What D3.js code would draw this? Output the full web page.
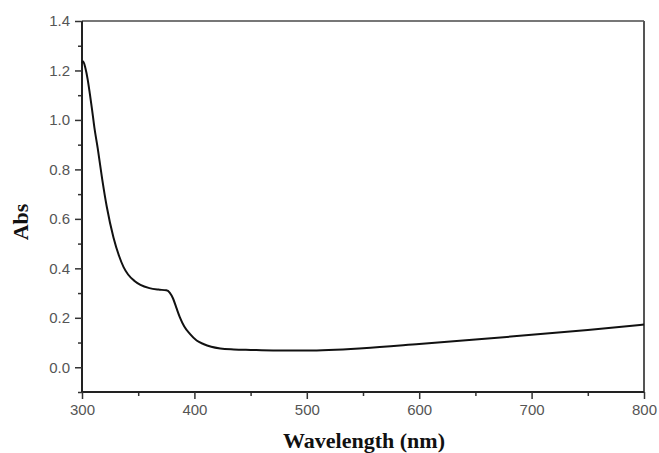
<!DOCTYPE html>
<html>
<head>
<meta charset="utf-8">
<script src="https://cdn.jsdelivr.net/npm/d3@7"></script>
<style>
  body { margin: 0; background: #fff; }
  .tick text { font-family: "Liberation Sans", Arial, sans-serif; font-size: 15px; fill: #555; }
  .axis-title { font-family: "Liberation Serif", "Times New Roman", serif; font-weight: bold; font-size: 22px; fill: #111; }
</style>
</head>
<body>
<svg id="chart" width="659" height="453"></svg>
<script>
// spectrum
const wavelength = [300, 301, 303, 305, 307, 309, 311, 314, 318, 322, 328, 333, 337, 341, 347, 352, 360, 368, 375, 378, 381, 384, 387, 391, 396, 402, 408, 415, 423, 435, 450, 470, 500, 550, 600, 650, 700, 750, 800];
const absorbance = [1.23, 1.236, 1.21, 1.165, 1.105, 1.04, 0.97, 0.885, 0.76, 0.65, 0.525, 0.45, 0.405, 0.375, 0.348, 0.333, 0.32, 0.314, 0.311, 0.302, 0.278, 0.24, 0.203, 0.165, 0.135, 0.108, 0.094, 0.083, 0.076, 0.072, 0.07, 0.068, 0.068, 0.077, 0.094, 0.112, 0.131, 0.151, 0.173];
const xTicks = [300, 400, 500, 600, 700, 800];
const xMinor = [350, 450, 550, 650, 750];
const yTicks = [0.0, 0.2, 0.4, 0.6, 0.8, 1.0, 1.2, 1.4];
const yMinor = [-0.1, 0.1, 0.3, 0.5, 0.7, 0.9, 1.1, 1.3];

const margin = {top: 21, right: 15, bottom: 61, left: 82};
const width = 659 - margin.left - margin.right;
const height = 453 - margin.top - margin.bottom;

const svg = d3.select("#chart");
const g = svg.append("g").attr("transform", `translate(${margin.left},${margin.top})`);

const x = d3.scaleLinear().domain([300, 800]).range([0, width]);
const y = d3.scaleLinear().domain([-0.1, 1.4]).range([height, 0]);

// frame (top/right lighter)
g.append("line").attr("x1", 0).attr("x2", width).attr("y1", 0).attr("y2", 0)
  .attr("stroke", "#777").attr("stroke-width", 2);
g.append("line").attr("x1", width).attr("x2", width).attr("y1", 0).attr("y2", height)
  .attr("stroke", "#555").attr("stroke-width", 2);

// minor ticks
g.append("g").attr("transform", `translate(0,${height})`)
  .call(d3.axisBottom(x).tickValues(xMinor).tickSize(4).tickFormat(""))
  .call(a => a.select(".domain").remove())
  .selectAll("line").attr("stroke", "#333").attr("stroke-width", 1.5);
g.append("g")
  .call(d3.axisLeft(y).tickValues(yMinor).tickSize(4).tickFormat(""))
  .call(a => a.select(".domain").remove())
  .selectAll("line").attr("stroke", "#333").attr("stroke-width", 1.5);

// major axes
const xAxis = g.append("g").attr("transform", `translate(0,${height})`)
  .call(d3.axisBottom(x).tickValues(xTicks).tickSize(7).tickPadding(5).tickFormat(d3.format("d")));
const yAxis = g.append("g")
  .call(d3.axisLeft(y).tickValues(yTicks).tickSize(7).tickPadding(5).tickFormat(d3.format(".1f")));
[xAxis, yAxis].forEach(a => {
  a.select(".domain").attr("stroke", "#222").attr("stroke-width", 2);
  a.selectAll(".tick line").attr("stroke", "#333").attr("stroke-width", 1.5);
});
yAxis.select(".domain").attr("d", `M0,${height}V0`);
xAxis.select(".domain").attr("d", `M0,0H${width}`);

// curve
const line = d3.line()
  .x((d, i) => x(wavelength[i]))
  .y(d => y(d))
  .curve(d3.curveMonotoneX);
g.append("path").datum(absorbance)
  .attr("d", line)
  .attr("fill", "none")
  .attr("stroke", "#111")
  .attr("stroke-width", 2);

// axis titles
svg.append("text").attr("class", "axis-title")
  .attr("x", 364).attr("y", 448)
  .attr("text-anchor", "middle").text("Wavelength (nm)");
svg.append("text").attr("class", "axis-title")
  .attr("transform", "translate(28,222) rotate(-90)")
  .attr("text-anchor", "middle").text("Abs");
</script>
</body>
</html>
